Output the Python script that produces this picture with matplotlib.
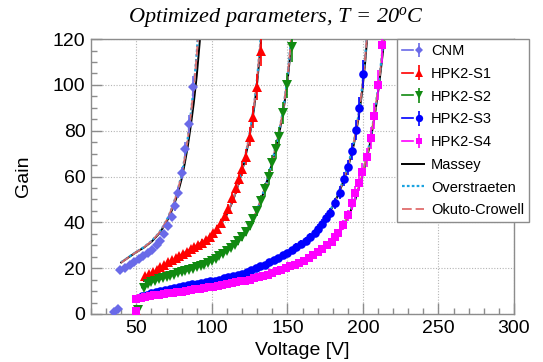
import matplotlib
matplotlib.use("Agg")
import matplotlib.pyplot as plt
from matplotlib.lines import Line2D
from matplotlib.legend_handler import HandlerTuple

plt.rcParams['font.family'] = ['Liberation Sans', 'DejaVu Sans']
plt.rcParams['mathtext.fontset'] = 'custom'
plt.rcParams['mathtext.it'] = 'Liberation Serif:italic'
plt.rcParams['mathtext.rm'] = 'Liberation Serif:italic'

# ---- measured gain vs voltage ----
cnm_v = [35, 38, 39.5, 42.5, 45.5, 48.5, 51.5, 54.5, 57.5, 60.5, 63.5, 66, 68.5, 71,
         73.5, 75.5, 77.5, 80, 82.5, 85, 87.5]
cnm_g = [1, 2, 19, 20.2, 21.4, 22.8, 24.2, 25.2, 26.5, 28, 30, 32, 35, 38.5,
         42.5, 47, 53, 61.5, 72, 83, 99]
cnm_e = [0.8, 0.8, 0.8, 0.8, 0.9, 0.9, 1, 1, 1, 1.1, 1.2, 1.3, 1.4, 1.6,
         1.8, 2, 2.3, 2.7, 3.2, 3.8, 4.8]

s1_v = [50.5, 56, 58.5, 61, 63.5, 66, 68.5, 71, 73.5, 76, 78.5, 81, 83.5, 86, 88.5,
        91, 93.5, 96, 98.5, 101, 103.5, 106, 108.5, 111, 113.5, 116, 118, 120,
        122.6, 125.2, 127.4, 129.6, 132.3]
s1_g = [0.3, 16.5, 17.5, 18.4, 19.4, 20.4, 21.5, 22.6, 23.6, 24.5, 25.3, 26.2, 27.2, 28.2, 29.2,
        30.2, 31.2, 32.3, 33.6, 35.2, 37.2, 39.8, 42.6, 46, 50.5, 55, 59, 63.5,
        68.6, 77.4, 86.1, 99.2, 114.9]
s1_e = [0.8, 0.8, 0.8, 0.8, 0.9, 0.9, 0.9, 1, 1, 1, 1.1, 1.1, 1.2, 1.2, 1.3,
        1.3, 1.4, 1.4, 1.5, 1.6, 1.7, 1.8, 2, 2.2, 2.4, 2.7, 2.9, 3.2,
        3.6, 4.2, 4.8, 5.6, 6.6]

s2_v = [51.3, 55, 57.5, 60, 62.5, 65, 67.5, 70, 72.5, 75, 77.5, 80, 82.5, 85, 87.5,
        90, 92.5, 95, 97.5, 100, 102.5, 105, 107.5, 110, 112.5, 115, 117.5, 120,
        122.5, 125, 127.5, 130, 132.5, 135, 137.5, 140, 142.5, 144.6, 147.3, 149.9, 152.8]
s2_g = [1.7, 11.5, 13.2, 14.0, 14.6, 15.2, 15.7, 16.2, 16.7, 17.2, 17.7, 18.2, 18.7, 19.2, 19.8,
        20.4, 21.0, 21.6, 22.4, 23.3, 24.2, 25.2, 26.3, 27.5, 28.8, 30.2, 31.8, 33.6,
        35.8, 38.5, 41.5, 45, 49.5, 54.5, 60, 66, 72, 77.4, 87.6, 99.9, 116.6]
s2_e = [0.8, 0.8, 0.8, 0.8, 0.8, 0.8, 0.8, 0.8, 0.9, 0.9, 0.9, 0.9, 0.9, 1, 1,
        1, 1, 1.1, 1.1, 1.2, 1.2, 1.3, 1.3, 1.4, 1.4, 1.5, 1.6, 1.7,
        1.8, 2, 2.1, 2.3, 2.5, 2.8, 3.1, 3.4, 3.8, 4.2, 4.8, 5.5, 6.8]

s3_v = [54, 57, 60, 63, 66, 69, 72, 75, 78, 81, 84, 87, 90, 93, 96, 99, 102, 105,
        108, 111, 114, 117, 120, 123, 126, 129, 132, 135, 138, 141, 144, 147, 150,
        153, 156, 159, 162, 165, 168, 170.5, 173, 175.5, 178.2, 181.5, 184.8, 187.7,
        190.3, 192.5, 195.4, 197.6, 199.8]
s3_g = [8.0, 8.5, 9.0, 9.6, 10.2, 10.6, 11.0, 11.4, 11.8, 12.1, 12.5, 12.9, 13.2, 13.6, 13.9, 14.3, 14.6, 15.0,
        15.5, 16.0, 16.5, 17.0, 17.6, 18.3, 19.0, 19.9, 20.8, 21.6, 22.5, 23.6, 24.6, 25.7, 26.8,
        28.0, 29.3, 30.6, 32.0, 33.6, 35.5, 37.3, 39.5, 42, 44.2, 48.3, 53, 59,
        64, 71, 80.3, 89.8, 104.7]
s3_e = [0.5, 0.5, 0.5, 0.5, 0.5, 0.5, 0.6, 0.6, 0.6, 0.6, 0.6, 0.6, 0.7, 0.7, 0.7, 0.7, 0.7, 0.8,
        0.8, 0.8, 0.8, 0.9, 0.9, 0.9, 1, 1, 1, 1.1, 1.1, 1.2, 1.2, 1.3, 1.3,
        1.4, 1.5, 1.5, 1.6, 1.7, 1.8, 1.9, 2, 2.1, 2.2, 2.4, 2.7, 3,
        3.3, 3.7, 4.3, 5, 6.2]

s4_v = [50, 50, 53, 56, 59, 62, 65, 68, 71, 74, 77, 80, 83, 86, 89, 92, 95, 98, 101, 104,
        107, 110, 113, 116, 119, 122, 125, 128, 131, 134, 137, 140, 143, 146, 149,
        152, 155, 158, 161, 164, 167, 170, 173, 176, 179.3, 181.5, 183.7, 186.9,
        190.3, 192.5, 194.7, 197.6, 199.1, 202.4, 205.1, 207.3, 210.1, 212.3]
s4_g = [1.5, 6.5, 7.1, 7.5, 7.9, 8.2, 8.5, 8.8, 9.1, 9.3, 9.6, 9.8, 10.1, 10.4, 10.7, 11.0, 11.3, 11.6, 11.9, 12.3,
        12.6, 13.0, 13.4, 13.8, 14.2, 14.6, 15.0, 15.5, 16.0, 16.6, 17.2, 17.9, 18.6, 19.4, 20.1,
        20.9, 21.6, 22.3, 23.2, 24.4, 25.7, 27.0, 28.4, 30.0, 31.5, 33.4, 35.2, 38.8,
        43.2, 48.3, 52.7, 57, 62.1, 68.4, 76.7, 86.4, 100, 117.4]
s4_e = [0.8, 0.4, 0.4, 0.4, 0.4, 0.4, 0.5, 0.5, 0.5, 0.5, 0.5, 0.5, 0.5, 0.6, 0.6, 0.6, 0.6, 0.6, 0.6, 0.7,
        0.7, 0.7, 0.7, 0.7, 0.8, 0.8, 0.8, 0.8, 0.9, 0.9, 0.9, 1, 1, 1, 1.1,
        1.1, 1.2, 1.2, 1.3, 1.3, 1.4, 1.5, 1.5, 1.6, 1.7, 1.8, 1.9, 2.1,
        2.4, 2.7, 3, 3.3, 3.7, 4.2, 4.8, 5.5, 6.5, 8]

# ---- model curves (Massey / Overstraeten / Okuto-Crowell) ----
cnm_fit_v = [40, 45, 50, 55, 60, 65, 68, 71, 74, 77, 80, 82, 84, 86, 88, 90, 92, 94]
cnm_massey = [22.5, 24.8, 27, 29, 31.5, 35, 38, 41.5, 46, 51.5, 59, 65.5, 73, 82, 92, 104, 119, 136]
cnm_overs = [22.6, 24.9, 27.1, 29.2, 31.8, 35.4, 38.5, 42.2, 47, 53, 61, 68, 76.5, 87, 99, 114, 134, 160]
cnm_okuto = [22.4, 24.8, 27, 29.1, 31.7, 35.3, 38.4, 42.1, 46.9, 52.8, 60.8, 67.8, 76.2, 86.5, 98.5, 113, 133, 158]

s1_fit_v = [55, 60, 65, 70, 75, 80, 85, 90, 95, 100, 105, 110, 114, 118, 121, 124, 126, 128, 130, 132, 133.5]
s1_massey = [14.5, 16.6, 18.8, 21.2, 23.6, 25.8, 27.9, 29.9, 32, 34.5, 38.2, 43.5, 49.5, 57.5, 65, 74, 81.5, 90, 101, 115, 128]
s1_overs = [14.6, 16.7, 18.9, 21.3, 23.7, 25.9, 28, 30, 32.1, 34.7, 38.4, 43.8, 49.9, 58, 65.7, 75, 82.6, 91.5, 103, 118, 131]
s1_okuto = [14.5, 16.6, 18.8, 21.2, 23.6, 25.9, 28, 30, 32.1, 34.6, 38.3, 43.7, 49.8, 57.9, 65.6, 74.8, 82.4, 91.2, 102.7, 117.5, 130]

s2_fit_v = [54, 60, 70, 80, 90, 100, 110, 118, 125, 130, 135, 140, 144, 147, 150, 152, 154]
s2_massey = [11.5, 14, 16.2, 18.2, 20.4, 23.3, 27.5, 32, 38.5, 45, 54.5, 66, 77, 87, 101, 114, 130]
s2_overs = [11.6, 14.1, 16.3, 18.3, 20.5, 23.4, 27.6, 32.2, 38.8, 45.4, 55, 66.8, 78, 88.4, 103, 117, 134]
s2_okuto = [11.5, 14, 16.2, 18.2, 20.5, 23.4, 27.6, 32.1, 38.7, 45.3, 54.9, 66.6, 77.8, 88.1, 102.6, 116.5, 133]

s3_fit_v = [54, 60, 70, 80, 90, 100, 110, 120, 130, 140, 150, 160, 168, 175, 181, 186, 190, 194, 197, 199.5, 201.5, 203.5]
s3_massey = [7.8, 8.9, 10.6, 11.9, 13.1, 14.3, 15.7, 17.5, 20, 23, 26.7, 31, 35.2, 41, 48, 56, 63.5, 74, 85, 97, 110, 126]
s3_overs = [7.9, 9, 10.7, 12, 13.2, 14.4, 15.8, 17.6, 20.1, 23.1, 26.9, 31.2, 35.5, 41.4, 48.5, 56.7, 64.4, 75.2, 86.6, 99, 112.5, 129]
s3_okuto = [7.8, 8.9, 10.6, 11.9, 13.1, 14.3, 15.8, 17.6, 20.1, 23.1, 26.8, 31.1, 35.4, 41.3, 48.4, 56.5, 64.2, 75, 86.3, 98.7, 112, 128]

s4_fit_v = [50, 60, 70, 80, 90, 100, 110, 120, 130, 140, 150, 160, 170, 178, 185, 190, 195, 200, 204, 207.5, 210.5, 213, 215.5]
s4_massey = [6.3, 7.8, 8.9, 9.7, 10.7, 11.7, 12.9, 14.2, 15.7, 17.8, 20.2, 22.8, 26.5, 30.5, 36, 42, 50, 61, 72, 85, 99, 113, 128]
s4_overs = [6.4, 7.9, 9, 9.8, 10.8, 11.8, 13, 14.3, 15.8, 17.9, 20.3, 23, 26.8, 30.9, 36.5, 42.6, 50.8, 62, 73.3, 86.6, 101, 115.5, 131]
s4_okuto = [6.3, 7.8, 8.9, 9.7, 10.7, 11.8, 13, 14.3, 15.8, 17.9, 20.3, 22.9, 26.7, 30.8, 36.4, 42.5, 50.6, 61.8, 73, 86.2, 100.6, 115, 130]

labels = ['CNM', 'HPK2-S1', 'HPK2-S2', 'HPK2-S3', 'HPK2-S4']
colors = ['#6a6ae8', '#ff0000', '#118a11', '#0000ff', '#ff00ff']
markers = ['D', '^', 'v', 'o', 's']
msizes = [4.6, 6.5, 6.5, 6.2, 5.6]
model_labels = ['Massey', 'Overstraeten', 'Okuto-Crowell']
model_colors = ['black', '#1aa3e0', '#e06a6a']

data = [(cnm_v, cnm_g, cnm_e), (s1_v, s1_g, s1_e), (s2_v, s2_g, s2_e),
        (s3_v, s3_g, s3_e), (s4_v, s4_g, s4_e)]
fits = [(cnm_fit_v, cnm_massey, cnm_overs, cnm_okuto),
        (s1_fit_v, s1_massey, s1_overs, s1_okuto),
        (s2_fit_v, s2_massey, s2_overs, s2_okuto),
        (s3_fit_v, s3_massey, s3_overs, s3_okuto),
        (s4_fit_v, s4_massey, s4_overs, s4_okuto)]

fig = plt.figure(figsize=(5.43, 3.62), dpi=100)
ax = fig.add_axes([0.1676, 0.1326, 0.7790, 0.7594])

# model curves first, data drawn on top
for fv, gm, go, gk in fits:
    l1, = ax.plot(fv, gm, color=model_colors[0], lw=1.4, zorder=2)
    l2, = ax.plot(fv, go, color=model_colors[1], lw=1.6, ls=(0, (1.2, 1.0)), zorder=2)
    l3, = ax.plot(fv, gk, color=model_colors[2], lw=1.4, ls=(0, (5, 2)), alpha=0.9, zorder=2)
model_handles = [l1, l2, l3]

data_handles = []
for (v, g, e), c, m, ms in zip(data, colors, markers, msizes):
    eb = ax.errorbar(v, g, yerr=e, fmt=m, color=c, ms=ms, mew=0, elinewidth=1.2,
                     capsize=0, zorder=3)
    line = Line2D([], [], color=c, lw=1.2)
    data_handles.append((line, eb))

ax.set_xlim(20, 300)
ax.set_ylim(0, 120)
ax.set_xticks([50, 100, 150, 200, 250, 300])
ax.set_xticks(range(20, 301, 10), minor=True)
ax.set_yticks(range(0, 121, 20))
ax.set_yticks(range(0, 121, 5), minor=True)
ax.grid(True, which='major', color='#b5b5b5', ls=(0, (1, 1.5)), lw=0.8)
ax.set_axisbelow(True)

for s in ax.spines.values():
    s.set_color('#8c8c8c')
    s.set_linewidth(1.0)
ax.tick_params(which='both', direction='in', top=False, right=False, color='#8c8c8c',
               labelsize=14, width=1.0)
ax.tick_params(which='major', length=8, pad=4)
ax.tick_params(which='minor', length=4)

ax.set_xlabel('Voltage [V]', fontsize=14)
ax.set_ylabel('Gain', fontsize=14)
ax.xaxis.set_label_coords(0.5, -0.103)
ax.yaxis.set_label_coords(-0.14, 0.5)

fig.text(0.508, 0.953, r'Optimized parameters, T = 20$^{o}$C', ha='center', va='center',
         fontsize=16, family='Liberation Serif', style='italic')

leg = ax.legend(data_handles + model_handles, labels + model_labels,
                handler_map={tuple: HandlerTuple(ndivide=None, pad=0)},
                loc='upper right', bbox_to_anchor=(529 / 543, 1 - 39 / 362),
                bbox_transform=fig.transFigure, fontsize=10.5, frameon=True,
                fancybox=False, edgecolor='#8c8c8c', framealpha=1,
                handlelength=1.55, handletextpad=0.45, labelspacing=0.60,
                borderpad=0.35, borderaxespad=0, markerscale=0.85)
leg.get_frame().set_linewidth(1.0)

fig.savefig('out.png', dpi=100)
